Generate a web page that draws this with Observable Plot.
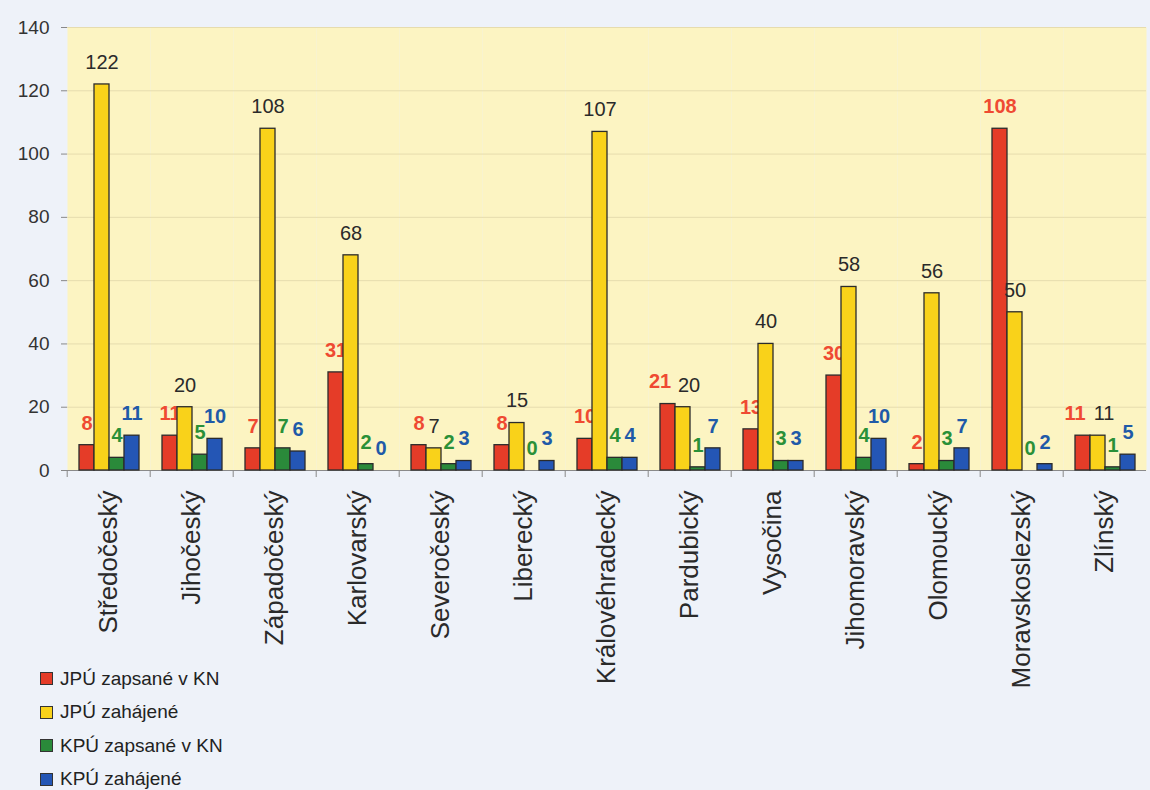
<!DOCTYPE html>
<html><head><meta charset="utf-8">
<script src="https://cdn.jsdelivr.net/npm/d3@7"></script>
<script src="https://cdn.jsdelivr.net/npm/@observablehq/plot@0.6"></script>
<style>
html,body{margin:0;padding:0;background:#eef2f9;}
#wrap{position:relative;width:1150px;height:790px;font-family:"Liberation Sans",Arial,sans-serif;}
#legend{position:absolute;left:40px;top:662px;}
.item{display:flex;align-items:center;height:33.5px;font-size:19px;color:#222;}
.sw{width:11px;height:11px;border:1px solid #333;margin-right:7px;}
</style></head><body><div id="wrap"></div>
<script>
const regions = ["Středočeský","Jihočeský","Západočeský","Karlovarský","Severočeský","Liberecký","Královéhradecký","Pardubický","Vysočina","Jihomoravský","Olomoucký","Moravskoslezský","Zlínský"];
const series = ["JPÚ zapsané v KN","JPÚ zahájené","KPÚ zapsané v KN","KPÚ zahájené"];
const jpuZapsane = [8,11,7,31,8,8,10,21,13,30,2,108,11];
const jpuZahajene = [122,20,108,68,7,15,107,20,40,58,56,50,11];
const kpuZapsane = [4,5,7,2,2,0,4,1,3,4,3,0,1];
const kpuZahajene = [11,10,6,0,3,3,4,7,3,10,7,2,5];
const yTicks = [0,20,40,60,80,100,120,140];

const values = [jpuZapsane, jpuZahajene, kpuZapsane, kpuZahajene];
const barColors = ["#e53c28","#f9d21a","#2a8a3a","#2456b5"];
const labelColors = ["#ef4a32","#2a2a2a","#2a9038","#1f5aa8"];
const labelWeights = ["bold","normal","bold","bold"];

const W = 1150, H = 790, mL = 63, mR = 0, mT = 27, mB = 320;
const step = (W - mL - mR) / regions.length;

// labels of the two JPÚ bars collide when both are two-digit and of similar height
const crowded = regions.map((r, i) => jpuZapsane[i] >= 10 && jpuZahajene[i] >= 10 && Math.abs(jpuZapsane[i] - jpuZahajene[i]) < 6);
const nudge = [-8, 6, 0, 0];

const rows = regions.flatMap((r, i) => series.map((s, k) => ({region: r, series: s, value: values[k][i], crowded: crowded[i]})));

const marks = [
  Plot.frame({fill: "#fcf4c2", stroke: "none"}),
  Plot.gridY({ticks: yTicks, stroke: "#e6dcae", strokeOpacity: 1}),
  Plot.ruleY([0], {stroke: "#8a8a8a"})
];
series.forEach((s, k) => {
  const d = rows.filter(r => r.series === s);
  marks.push(Plot.barY(d, {fx: "region", x: "series", y: "value", fill: barColors[k], stroke: "#2b2b2b", strokeWidth: 1.3}));
  const textOpts = {fx: "region", x: "series", y: "value", text: r => String(r.value), dy: -22,
    fill: labelColors[k], fontWeight: labelWeights[k], fontSize: 20};
  marks.push(Plot.text(d.filter(r => !r.crowded), textOpts));
  marks.push(Plot.text(d.filter(r => r.crowded), {...textOpts, dx: nudge[k]}));
});
marks.push(
  Plot.axisY({ticks: yTicks, tickSize: 6, tickPadding: 12, fontSize: 19, fill: "#333", stroke: "#888", line: true, label: null}),
  Plot.axisFx({anchor: "bottom", tickSize: 0, tickRotate: -90, tickPadding: 20, fontSize: 26, fill: "#2a2a2a", label: null}),
  Plot.axisFx({anchor: "bottom", tickSize: 7, tickFormat: () => "", dx: -step / 2, stroke: "#888", label: null})
);

const chart = Plot.plot({
  width: W, height: H,
  marginLeft: mL, marginRight: mR, marginTop: mT, marginBottom: mB,
  style: {background: "#eef2f9", fontFamily: "'Liberation Sans', Arial, sans-serif"},
  fx: {domain: regions, padding: 0},
  x: {domain: series, paddingInner: 0, paddingOuter: 0.61, axis: null},
  y: {domain: [0, 140]},
  marks
});
const wrap = document.getElementById("wrap");
wrap.appendChild(chart);

const legend = document.createElement("div");
legend.id = "legend";
series.forEach((s, k) => {
  const it = document.createElement("div");
  it.className = "item";
  const sw = document.createElement("span");
  sw.className = "sw";
  sw.style.background = barColors[k];
  const t = document.createElement("span");
  t.textContent = s;
  it.appendChild(sw); it.appendChild(t);
  legend.appendChild(it);
});
wrap.appendChild(legend);
</script></body></html>
